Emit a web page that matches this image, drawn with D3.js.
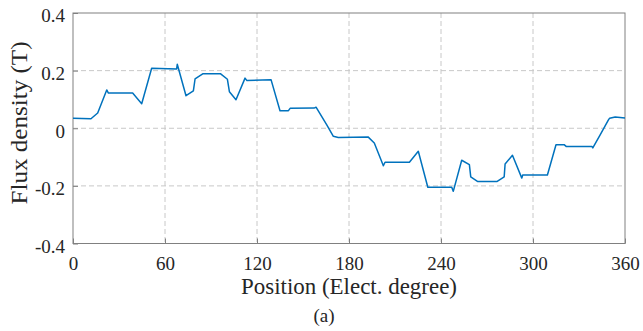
<!DOCTYPE html>
<html>
<head>
<meta charset="utf-8">
<script src="https://cdn.jsdelivr.net/npm/d3@7"></script>
<style>
  body { margin: 0; background: #fff; }
  svg text { font-family: "Times New Roman", "Liberation Serif", "DejaVu Serif", serif; fill: #262626; }
</style>
</head>
<body>
<svg id="chart" width="643" height="331"></svg>
<script>
// Data
const position = [0, 11.7, 16.1, 22, 23.1, 38.9, 44.8, 51.3, 67.6, 68, 73.7, 78.5, 79.6, 84.6, 96.3,
  100.7, 102, 106.3, 112.2, 113.3, 129.2, 135, 140.5, 141.6, 157.2, 158.5, 165.5, 169.8, 173, 192.4,
  196.5, 202.4, 203.5, 219.4, 225.2, 231.4, 247, 248, 253.5, 258.5, 259.4, 264, 276.4, 281.2, 281.8,
  286.6, 292.7, 293.3, 309.4, 315, 320.3, 321.6, 338.4, 339, 343.8, 349.2, 350, 353.6, 360];
const flux = [0.035, 0.033, 0.053, 0.133, 0.122, 0.122, 0.085, 0.208, 0.206, 0.222, 0.113, 0.130, 0.171, 0.189, 0.189,
  0.170, 0.127, 0.099, 0.174, 0.166, 0.168, 0.061, 0.061, 0.069, 0.070, 0.073, 0.012, -0.028, -0.032, -0.030,
  -0.051, -0.130, -0.118, -0.118, -0.080, -0.205, -0.205, -0.219, -0.111, -0.126, -0.169, -0.185, -0.185, -0.169, -0.124,
  -0.094, -0.173, -0.162, -0.162, -0.057, -0.057, -0.063, -0.063, -0.068, -0.023, 0.029, 0.035, 0.039, 0.036];
const xTicks = [0, 60, 120, 180, 240, 300, 360];
const yTicks = [-0.4, -0.2, 0, 0.2, 0.4];
const yTickLabels = ["-0.4", "-0.2", "0", "0.2", "0.4"];

const data = position.map((p, i) => ({ x: p, y: flux[i] }));

const plot = { left: 73, right: 625, top: 13, bottom: 243.5 };
const serif = "'Times New Roman', 'Liberation Serif', 'DejaVu Serif', serif";
const svg = d3.select("#chart");

const x = d3.scaleLinear().domain([0, 360]).range([plot.left, plot.right]);
const y = d3.scaleLinear().domain([-0.4, 0.4]).range([plot.bottom, plot.top]);

// Gitter
const grid = svg.append("g").attr("stroke", "#c8c8c8").attr("stroke-dasharray", "5,3").attr("stroke-width", 1);
grid.selectAll("line.gx").data(xTicks.slice(1, -1)).enter().append("line")
  .attr("x1", d => x(d)).attr("x2", d => x(d)).attr("y1", plot.top).attr("y2", plot.bottom);
grid.selectAll("line.gy").data(yTicks.slice(1, -1)).enter().append("line")
  .attr("y1", d => y(d)).attr("y2", d => y(d)).attr("x1", plot.left).attr("x2", plot.right);

// Achsen (Ticks nach innen)
const xAxis = d3.axisBottom(x).tickValues(xTicks).tickSizeInner(-5).tickSizeOuter(0).tickPadding(13);
const yAxis = d3.axisLeft(y).tickValues(yTicks).tickSizeInner(-5).tickSizeOuter(0).tickPadding(8)
  .tickFormat((d, i) => yTickLabels[i]);

const gx = svg.append("g").attr("transform", `translate(0,${plot.bottom})`).call(xAxis);
const gy = svg.append("g").attr("transform", `translate(${plot.left},0)`).call(yAxis);
[gx, gy].forEach(g => {
  g.attr("font-family", serif).attr("font-size", 19);
  g.select(".domain").remove();
  g.selectAll(".tick line").attr("stroke", "#808080");
  g.selectAll("text").attr("fill", "#262626");
});
gy.selectAll("text").attr("dy", "0.47em");

// Box rund um die Zeichenfläche
svg.append("rect")
  .attr("x", plot.left).attr("y", plot.top)
  .attr("width", plot.right - plot.left).attr("height", plot.bottom - plot.top)
  .attr("fill", "none").attr("stroke", "#808080").attr("stroke-width", 1);

// Kurve
const line = d3.line().x(d => x(d.x)).y(d => y(d.y));
svg.append("path")
  .datum(data)
  .attr("d", line)
  .attr("fill", "none")
  .attr("stroke", "#0072BD")
  .attr("stroke-width", 1.5)
  .attr("stroke-linejoin", "round");

// Beschriftungen
svg.append("text")
  .attr("x", (plot.left + plot.right) / 2).attr("y", 294)
  .attr("text-anchor", "middle").attr("font-size", 22.5)
  .attr("textLength", 216).attr("lengthAdjust", "spacingAndGlyphs")
  .text("Position (Elect. degree)");

svg.append("text")
  .attr("transform", "translate(27,123) rotate(-90)")
  .attr("text-anchor", "middle").attr("font-size", 22.5)
  .attr("textLength", 163).attr("lengthAdjust", "spacingAndGlyphs")
  .text("Flux density (T)");

svg.append("text")
  .attr("x", 324).attr("y", 322)
  .attr("text-anchor", "middle").attr("font-size", 19)
  .text("(a)");
</script>
</body>
</html>
